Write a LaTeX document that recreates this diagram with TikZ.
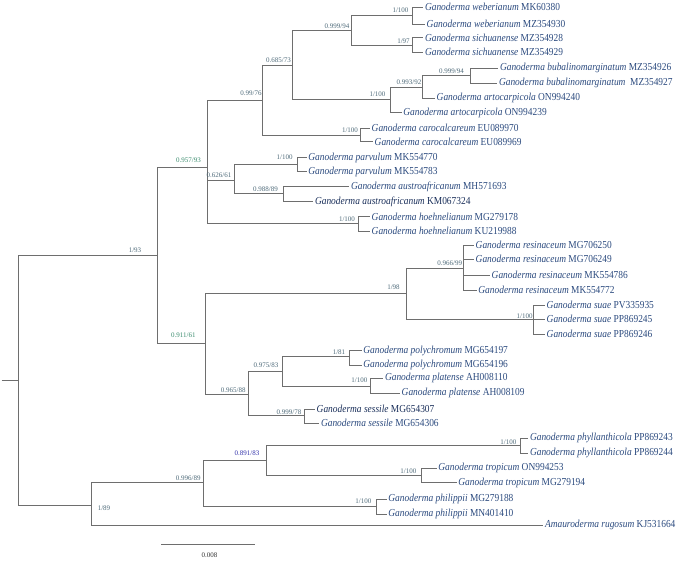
\documentclass[tikz,border=0pt]{standalone}
\usepackage{fontspec}
\setmainfont{Liberation Serif}
\definecolor{linecol}{HTML}{6E6E6E}
\definecolor{taxcol}{HTML}{2B4A7E}
\definecolor{taxdark}{HTML}{1A2F5A}
\definecolor{supcol}{HTML}{4F6B7A}
\definecolor{supgreen}{HTML}{3B8C6E}
\definecolor{supblue}{HTML}{3333AA}
\newcommand\condtx[2]{\scalebox{0.88}[1]{\textit{#1} #2}}
\begin{document}
\begin{tikzpicture}[x=1pt,y=-1pt,
  br/.style={draw=linecol, line width=0.8pt},
  tax/.style={anchor=west, inner sep=1.5pt, text=taxcol, font=\fontsize{10.7}{12}\selectfont},
  taxb/.style={tax, text=taxdark},
  supp/.style={inner sep=0pt, text=supcol, font=\fontsize{7}{8}\selectfont},
  suppg/.style={supp, text=supgreen},
  suppb/.style={supp, text=supblue}]
\useasboundingbox (0,0) rectangle (685,563);
% internal nodes
\coordinate (rs) at (1.7,380);
\coordinate (root) at (18.3,380);
\coordinate (A) at (157.3,255);
\coordinate (B) at (207.7,167.3);
\coordinate (C) at (262.3,100);
\coordinate (D) at (292.7,65);
\coordinate (E) at (351,30);
\coordinate (F) at (412.3,15.7);
\coordinate (G) at (412.3,45);
\coordinate (H) at (390,99);
\coordinate (I) at (422.7,87.3);
\coordinate (J) at (470.7,75.7);
\coordinate (K) at (360.7,135);
\coordinate (L) at (234,180);
\coordinate (M) at (297.3,164);
\coordinate (N) at (283.3,193.3);
\coordinate (O) at (358.3,223.3);
\coordinate (P) at (205.7,343.3);
\coordinate (Q) at (406.7,293.3);
\coordinate (R) at (463.3,268.3);
\coordinate (S) at (533.3,319.3);
\coordinate (T) at (248.3,394);
\coordinate (U) at (282.7,371);
\coordinate (V) at (349.3,356.7);
\coordinate (W) at (370,386);
\coordinate (X) at (304,415.7);
\coordinate (Y) at (91.7,505);
\coordinate (Z) at (203.3,482.3);
\coordinate (AA) at (266.7,460);
\coordinate (AB) at (520,445.7);
\coordinate (AC) at (421.7,475);
\coordinate (AD) at (376,506.7);
% tips
\coordinate (t1) at (423.3,7.3);
\coordinate (t2) at (425,24);
\coordinate (t3) at (423.3,37.7);
\coordinate (t4) at (423.3,52.3);
\coordinate (t5) at (498.3,68.3);
\coordinate (t6) at (497.3,83.3);
\coordinate (t7) at (435,98.3);
\coordinate (t8) at (401.7,112.7);
\coordinate (t9) at (370,128.3);
\coordinate (t10) at (373,141.5);
\coordinate (t11) at (306.7,157.7);
\coordinate (t12) at (306.7,171.5);
\coordinate (t13) at (349.3,186.7);
\coordinate (t14) at (313.3,201.7);
\coordinate (t15) at (370,216.7);
\coordinate (t16) at (370,231);
\coordinate (t17) at (474,245);
\coordinate (t18) at (474,259.3);
\coordinate (t19) at (490,275);
\coordinate (t20) at (476.7,290);
\coordinate (t21) at (545,305);
\coordinate (t22) at (545,319.3);
\coordinate (t23) at (545,334);
\coordinate (t24) at (361.7,350.7);
\coordinate (t25) at (361.7,365);
\coordinate (t26) at (383.3,378.3);
\coordinate (t27) at (400,393.3);
\coordinate (t28) at (315,409);
\coordinate (t29) at (319.3,423.3);
\coordinate (t30) at (528.3,438.3);
\coordinate (t31) at (528.3,453.3);
\coordinate (t32) at (436.7,468.3);
\coordinate (t33) at (456.7,482.7);
\coordinate (t34) at (386.7,499.3);
\coordinate (t35) at (386.7,514);
\coordinate (t36) at (543.3,525);
% branches
\draw[br] (rs) -- (root);
\draw[br] (root) |- (A);
\draw[br] (root) |- (Y);
\draw[br] (A) |- (B);
\draw[br] (A) |- (P);
\draw[br] (B) |- (C);
\draw[br] (B) |- (L);
\draw[br] (B) |- (O);
\draw[br] (C) |- (D);
\draw[br] (C) |- (K);
\draw[br] (D) |- (E);
\draw[br] (D) |- (H);
\draw[br] (E) |- (F);
\draw[br] (E) |- (G);
\draw[br] (F) |- (t1);
\draw[br] (F) |- (t2);
\draw[br] (G) |- (t3);
\draw[br] (G) |- (t4);
\draw[br] (H) |- (I);
\draw[br] (H) |- (t8);
\draw[br] (I) |- (J);
\draw[br] (I) |- (t7);
\draw[br] (J) |- (t5);
\draw[br] (J) |- (t6);
\draw[br] (K) |- (t9);
\draw[br] (K) |- (t10);
\draw[br] (L) |- (M);
\draw[br] (L) |- (N);
\draw[br] (M) |- (t11);
\draw[br] (M) |- (t12);
\draw[br] (N) |- (t13);
\draw[br] (N) |- (t14);
\draw[br] (O) |- (t15);
\draw[br] (O) |- (t16);
\draw[br] (P) |- (Q);
\draw[br] (P) |- (T);
\draw[br] (Q) |- (R);
\draw[br] (Q) |- (S);
\draw[br] (R) |- (t17);
\draw[br] (R) |- (t18);
\draw[br] (R) |- (t19);
\draw[br] (R) |- (t20);
\draw[br] (S) |- (t21);
\draw[br] (S) |- (t22);
\draw[br] (S) |- (t23);
\draw[br] (T) |- (U);
\draw[br] (T) |- (X);
\draw[br] (U) |- (V);
\draw[br] (U) |- (W);
\draw[br] (V) |- (t24);
\draw[br] (V) |- (t25);
\draw[br] (W) |- (t26);
\draw[br] (W) |- (t27);
\draw[br] (X) |- (t28);
\draw[br] (X) |- (t29);
\draw[br] (Y) |- (Z);
\draw[br] (Y) |- (t36);
\draw[br] (Z) |- (AA);
\draw[br] (Z) |- (AD);
\draw[br] (AA) |- (AB);
\draw[br] (AA) |- (AC);
\draw[br] (AB) |- (t30);
\draw[br] (AB) |- (t31);
\draw[br] (AC) |- (t32);
\draw[br] (AC) |- (t33);
\draw[br] (AD) |- (t34);
\draw[br] (AD) |- (t35);
% taxon labels
\node[tax] (n1) at (t1) {\condtx{Ganoderma weberianum}{MK60380}};
\node[tax] (n2) at (t2) {\condtx{Ganoderma weberianum}{MZ354930}};
\node[tax] (n3) at (t3) {\condtx{Ganoderma sichuanense}{MZ354928}};
\node[tax] (n4) at (t4) {\condtx{Ganoderma sichuanense}{MZ354929}};
\node[tax] (n5) at (t5) {\condtx{Ganoderma bubalinomarginatum}{MZ354926}};
\node[tax] (n6) at (t6) {\condtx{Ganoderma bubalinomarginatum}{\ MZ354927}};
\node[tax] (n7) at (t7) {\condtx{Ganoderma artocarpicola}{ON994240}};
\node[tax] (n8) at (t8) {\condtx{Ganoderma artocarpicola}{ON994239}};
\node[tax] (n9) at (t9) {\condtx{Ganoderma carocalcareum}{EU089970}};
\node[tax] (n10) at (t10) {\condtx{Ganoderma carocalcareum}{EU089969}};
\node[tax] (n11) at (t11) {\condtx{Ganoderma parvulum}{MK554770}};
\node[tax] (n12) at (t12) {\condtx{Ganoderma parvulum}{MK554783}};
\node[tax] (n13) at (t13) {\condtx{Ganoderma austroafricanum}{MH571693}};
\node[taxb] (n14) at (t14) {\condtx{Ganoderma austroafricanum}{KM067324}};
\node[tax] (n15) at (t15) {\condtx{Ganoderma hoehnelianum}{MG279178}};
\node[tax] (n16) at (t16) {\condtx{Ganoderma hoehnelianum}{KU219988}};
\node[tax] (n17) at (t17) {\condtx{Ganoderma resinaceum}{MG706250}};
\node[tax] (n18) at (t18) {\condtx{Ganoderma resinaceum}{MG706249}};
\node[tax] (n19) at (t19) {\condtx{Ganoderma resinaceum}{MK554786}};
\node[tax] (n20) at (t20) {\condtx{Ganoderma resinaceum}{MK554772}};
\node[tax] (n21) at (t21) {\condtx{Ganoderma suae}{PV335935}};
\node[tax] (n22) at (t22) {\condtx{Ganoderma suae}{PP869245}};
\node[tax] (n23) at (t23) {\condtx{Ganoderma suae}{PP869246}};
\node[tax] (n24) at (t24) {\condtx{Ganoderma polychromum}{MG654197}};
\node[tax] (n25) at (t25) {\condtx{Ganoderma polychromum}{MG654196}};
\node[tax] (n26) at (t26) {\condtx{Ganoderma platense}{AH008110}};
\node[tax] (n27) at (t27) {\condtx{Ganoderma platense}{AH008109}};
\node[taxb] (n28) at (t28) {\condtx{Ganoderma sessile}{MG654307}};
\node[tax] (n29) at (t29) {\condtx{Ganoderma sessile}{MG654306}};
\node[tax] (n30) at (t30) {\condtx{Ganoderma phyllanthicola}{PP869243}};
\node[tax] (n31) at (t31) {\condtx{Ganoderma phyllanthicola}{PP869244}};
\node[tax] (n32) at (t32) {\condtx{Ganoderma tropicum}{ON994253}};
\node[tax] (n33) at (t33) {\condtx{Ganoderma tropicum}{MG279194}};
\node[tax] (n34) at (t34) {\condtx{Ganoderma philippii}{MG279188}};
\node[tax] (n35) at (t35) {\condtx{Ganoderma philippii}{MN401410}};
\node[tax] (n36) at (t36) {\condtx{Amauroderma rugosum}{KJ531664}};
% support values
\node[supp] (sF) at (400.5,10.7) {1/100};
\node[supp] (sE) at (337,26.7) {0.999/94};
\node[supp] (sG) at (403.5,41.7) {1/97};
\node[supp] (sD) at (278.5,60.7) {0.685/73};
\node[supp] (sC) at (251,93) {0.99/76};
\node[supp] (sH) at (377.5,94) {1/100};
\node[supp] (sI) at (409,82.7) {0.993/92};
\node[supp] (sJ) at (451.5,71) {0.999/94};
\node[supp] (sK) at (350,130) {1/100};
\node[suppg] (sB) at (188.5,160.7) {0.957/93};
\node[supp] (sL) at (219,175.7) {0.626/61};
\node[supp] (sM) at (284.7,157.7) {1/100};
\node[supp] (sN) at (265.5,189) {0.988/89};
\node[supp] (sO) at (347,219) {1/100};
\node[supp] (sA) at (135,250) {1/93};
\node[suppg] (sP) at (183.3,335) {0.911/61};
\node[supp] (sQ) at (393.5,286.7) {1/98};
\node[supp] (sR) at (449.7,263.3) {0.966/99};
\node[supp] (sS) at (524.7,316) {1/100};
\node[supp] (sT) at (233.3,390.7) {0.965/88};
\node[supp] (sU) at (266,365) {0.975/83};
\node[supp] (sV) at (339,352.3) {1/81};
\node[supp] (sW) at (359.3,380) {1/100};
\node[supp] (sX) at (289,412.7) {0.999/78};
\node[supp] (sAB) at (508.3,441.7) {1/100};
\node[supp] (sAC) at (408.3,471) {1/100};
\node[supp] (sAD) at (363.3,500.7) {1/100};
\node[suppb] (sAA) at (247,453.3) {0.891/83};
\node[supp] (sZ) at (188.3,478.3) {0.996/89};
\node[supp] (sY) at (104,508.3) {1/89};
% scale bar
\coordinate (sb1) at (161,544.3);
\coordinate (sb2) at (255,544.3);
\draw[br] (sb1) -- (sb2);
\node[supp, text=black!80] (sbl) at (209.5,555.7) {0.008};
\end{tikzpicture}
\end{document}
